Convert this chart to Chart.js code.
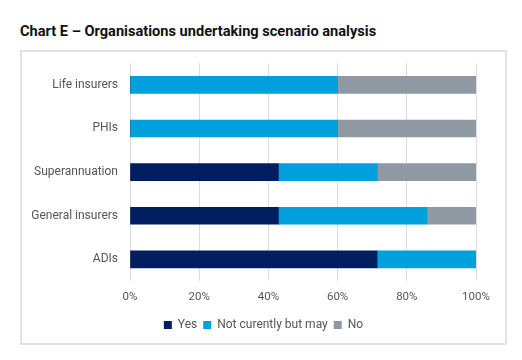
<!doctype html>
<html lang="en">
<head>
    <meta charset="UTF-8" />
    <title>Chart E</title>
    <script src="https://cdn.jsdelivr.net/npm/chart.js"></script>
    <style>
        body { margin: 0; background: #fff; font-family: Roboto, sans-serif; }
        .title { position: absolute; left: 20px; top: 22px; font-size: 14.6px; font-weight: bold; color: #111; }
        .frame { position: absolute; left: 20px; top: 50px; width: 483px; height: 291px; border: 2px solid #e2e2e2; }
    </style>
</head>
<body>
    <div class="title">Chart E – Organisations undertaking scenario analysis</div>
    <div class="frame">
        <canvas id="myChart" width="483" height="291"></canvas>
    </div>
    <script>
        const categories = ['Life insurers', 'PHIs', 'Superannuation', 'General insurers', 'ADIs'];
        const yes = [0, 0, 42.9, 42.9, 71.4];
        const notCurrently = [60, 60, 28.6, 42.9, 28.6];
        const no = [40, 40, 28.6, 14.3, 0];
        const xTicks = [0, 20, 40, 60, 80, 100];

        const ctx = document.getElementById('myChart');

        new Chart(ctx, {
            type: 'bar',
            data: {
                labels: categories,
                datasets: [
                    { label: 'Yes', data: yes, backgroundColor: '#001e5f' },
                    { label: 'Not curently but may', data: notCurrently, backgroundColor: '#00a0dc' },
                    { label: 'No', data: no, backgroundColor: '#8e99a4' }
                ]
            },
            options: {
                indexAxis: 'y',
                responsive: false,
                animation: false,
                layout: { padding: { top: 11, right: 0, left: 0, bottom: 2 } },
                datasets: { bar: { barThickness: 17 } },
                scales: {
                    x: {
                        stacked: true,
                        min: 0,
                        max: 100,
                        afterBuildTicks: s => { s.ticks = xTicks.map(v => ({ value: v })); },
                        // keep the right gap here so the legend stays centred in the frame
                        afterFit: s => { s.paddingRight = 29; },
                        grid: { color: '#dcdcdc', drawTicks: false },
                        border: { display: false },
                        ticks: {
                            padding: 9,
                            color: '#555',
                            font: { family: 'Roboto', size: 11.5 },
                            callback: v => v + '%'
                        }
                    },
                    y: {
                        stacked: true,
                        afterFit: s => {
                            s.width = 108;
                            // label padding should not push the plot down
                            s.paddingTop = 0;
                            s.paddingBottom = 0;
                        },
                        grid: { display: false, drawTicks: false },
                        border: { display: false },
                        ticks: {
                            padding: 12,
                            color: '#555',
                            font: { family: 'Roboto', size: 12 }
                        }
                    }
                },
                plugins: {
                    legend: {
                        position: 'bottom',
                        labels: {
                            boxWidth: 8,
                            boxHeight: 8,
                            padding: 6,
                            color: '#555',
                            font: { family: 'Roboto', size: 12 }
                        }
                    },
                    tooltip: { enabled: false }
                }
            }
        });
    </script>
</body>
</html>
